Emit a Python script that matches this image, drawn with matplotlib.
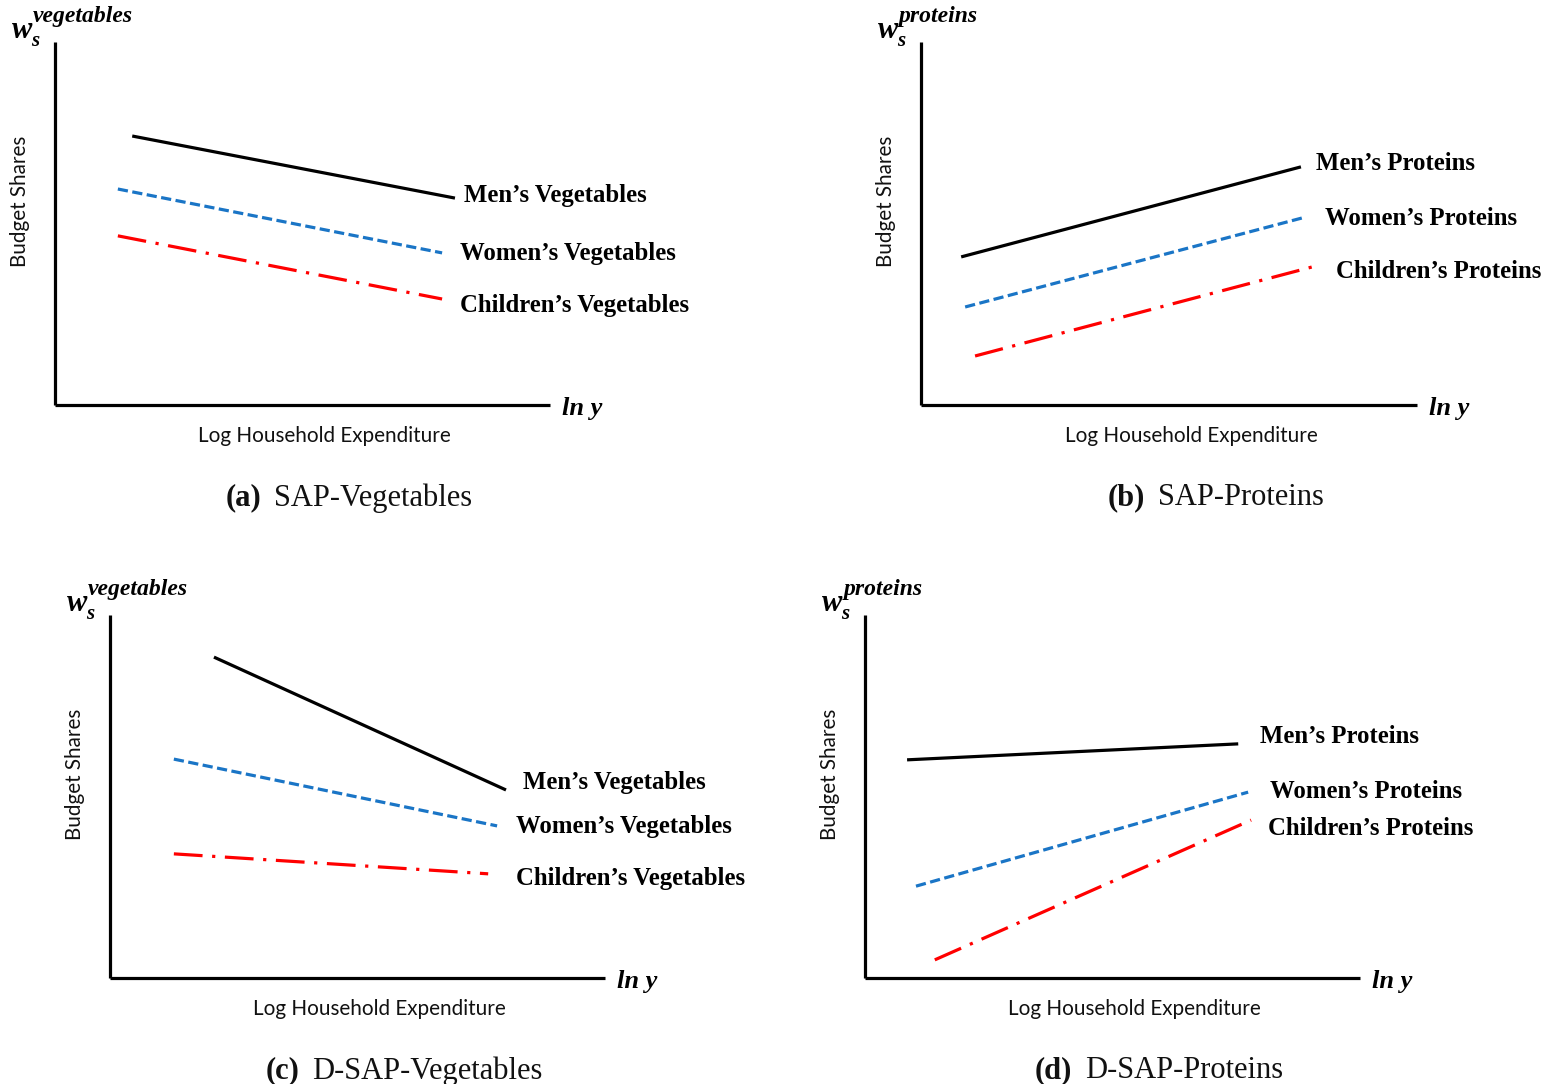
import matplotlib
matplotlib.use('Agg')
from matplotlib import pyplot as plt
from matplotlib.offsetbox import AnnotationBbox, HPacker, TextArea

SERIF = 'Liberation Serif'
SANS = 'Lato'

# start/end of each schematic line, in axis units (0..1 on both axes)
veg_sap_x = {'men': [0.156, 0.808], 'women': [0.127, 0.782], 'children': [0.127, 0.782]}
veg_sap_y = {'men': [0.741, 0.570], 'women': [0.595, 0.419], 'children': [0.466, 0.292]}

prot_sap_x = {'men': [0.081, 0.766], 'women': [0.089, 0.776], 'children': [0.109, 0.796]}
prot_sap_y = {'men': [0.408, 0.656], 'women': [0.270, 0.518], 'children': [0.135, 0.383]}

veg_dsap_x = {'men': [0.210, 0.800], 'women': [0.129, 0.782], 'children': [0.129, 0.764]}
veg_dsap_y = {'men': [0.884, 0.518], 'women': [0.603, 0.419], 'children': [0.342, 0.287]}

prot_dsap_x = {'men': [0.085, 0.754], 'women': [0.103, 0.774], 'children': [0.141, 0.780]}
prot_dsap_y = {'men': [0.601, 0.645], 'women': [0.253, 0.512], 'children': [0.050, 0.435]}

# where the series names sit (left edge, vertical centre)
veg_sap_lbl = {'men': (0.826, 0.578), 'women': (0.818, 0.418), 'children': (0.818, 0.275)}
prot_sap_lbl = {'men': (0.796, 0.666), 'women': (0.815, 0.515), 'children': (0.837, 0.369)}
veg_dsap_lbl = {'men': (0.834, 0.539), 'women': (0.820, 0.418), 'children': (0.820, 0.275)}
prot_dsap_lbl = {'men': (0.798, 0.666), 'women': (0.818, 0.515), 'children': (0.814, 0.413)}

veg_names = {'men': 'Men\u2019s Vegetables', 'women': 'Women\u2019s Vegetables',
             'children': 'Children\u2019s Vegetables'}
prot_names = {'men': 'Men\u2019s Proteins', 'women': 'Women\u2019s Proteins',
              'children': 'Children\u2019s Proteins'}

styles = {
    'men': dict(color='black', linestyle='-'),
    'women': dict(color='#1a75c6', linestyle=(0, (3.2, 1.4))),
    'children': dict(color='#ff0000', linestyle=(0, (9, 3, 1, 3))),
}

W, H = 1548, 1084
fig = plt.figure(figsize=(W / 100, H / 100), dpi=100)


def panel(px_left, px_top, px_right, px_bottom, xs, ys, lbls, names, good, letter, title):
    ax = fig.add_axes([px_left / W, 1 - px_bottom / H,
                       (px_right - px_left) / W, (px_bottom - px_top) / H])
    ax.set_xlim(0, 1)
    ax.set_ylim(0, 1)
    for s in ('top', 'right'):
        ax.spines[s].set_visible(False)
    for s in ('left', 'bottom'):
        ax.spines[s].set_linewidth(2.3)
        ax.spines[s].set_capstyle('butt')
    ax.set_xticks([])
    ax.set_yticks([])
    ax.patch.set_alpha(0)

    for key in ('men', 'women', 'children'):
        ax.plot(xs[key], ys[key], linewidth=2.3, solid_capstyle='butt',
                dash_capstyle='butt', **styles[key])
        lx, ly = lbls[key]
        ax.text(lx, ly, names[key], fontsize=17.8, fontfamily=SERIF,
                fontweight='bold', ha='left', va='center')

    bi = dict(fontfamily=SERIF, fontweight='bold', fontstyle='italic')
    ax.text(1.025, -0.01, 'ln y', fontsize=19, ha='left', va='center', **bi)
    # w_s with the good as superscript
    ax.text(-0.087, 1.011, 'w', fontsize=22, ha='left', va='baseline', **bi)
    ax.text(-0.049, 0.990, 's', fontsize=15, ha='left', va='baseline', **bi)
    ax.text(-0.044, 1.055, good, fontsize=17, ha='left', va='baseline', **bi)

    ax.text(-0.071, 0.562, 'Budget Shares', rotation=90, fontsize=14.9,
            fontfamily=SANS, ha='center', va='center', color='#111111')
    ax.text(0.545, -0.085, 'Log Household Expenditure', fontsize=14.9,
            fontfamily=SANS, ha='center', va='center', color='#111111')

    caption = HPacker(children=[
        TextArea('(%s)' % letter, textprops=dict(fontsize=22, fontfamily=SERIF,
                                                 fontweight='bold', color='#111111')),
        TextArea(title, textprops=dict(fontsize=22, fontfamily=SERIF,
                                       color='#111111')),
    ], sep=9, align='baseline', pad=0)
    ax.add_artist(AnnotationBbox(caption, (0.594, -0.256), xycoords='axes fraction',
                                 frameon=False, box_alignment=(0.5, 0.5), pad=0))
    return ax


panel(55, 42, 550, 405, veg_sap_x, veg_sap_y, veg_sap_lbl, veg_names,
      'vegetables', 'a', 'SAP-Vegetables')
panel(921, 42, 1417, 405, prot_sap_x, prot_sap_y, prot_sap_lbl, prot_names,
      'proteins', 'b', 'SAP-Proteins')
panel(110, 615, 605, 978, veg_dsap_x, veg_dsap_y, veg_dsap_lbl, veg_names,
      'vegetables', 'c', 'D-SAP-Vegetables')
panel(865, 615, 1360, 978, prot_dsap_x, prot_dsap_y, prot_dsap_lbl, prot_names,
      'proteins', 'd', 'D-SAP-Proteins')

fig.savefig('out.png', dpi=100, facecolor='white')
